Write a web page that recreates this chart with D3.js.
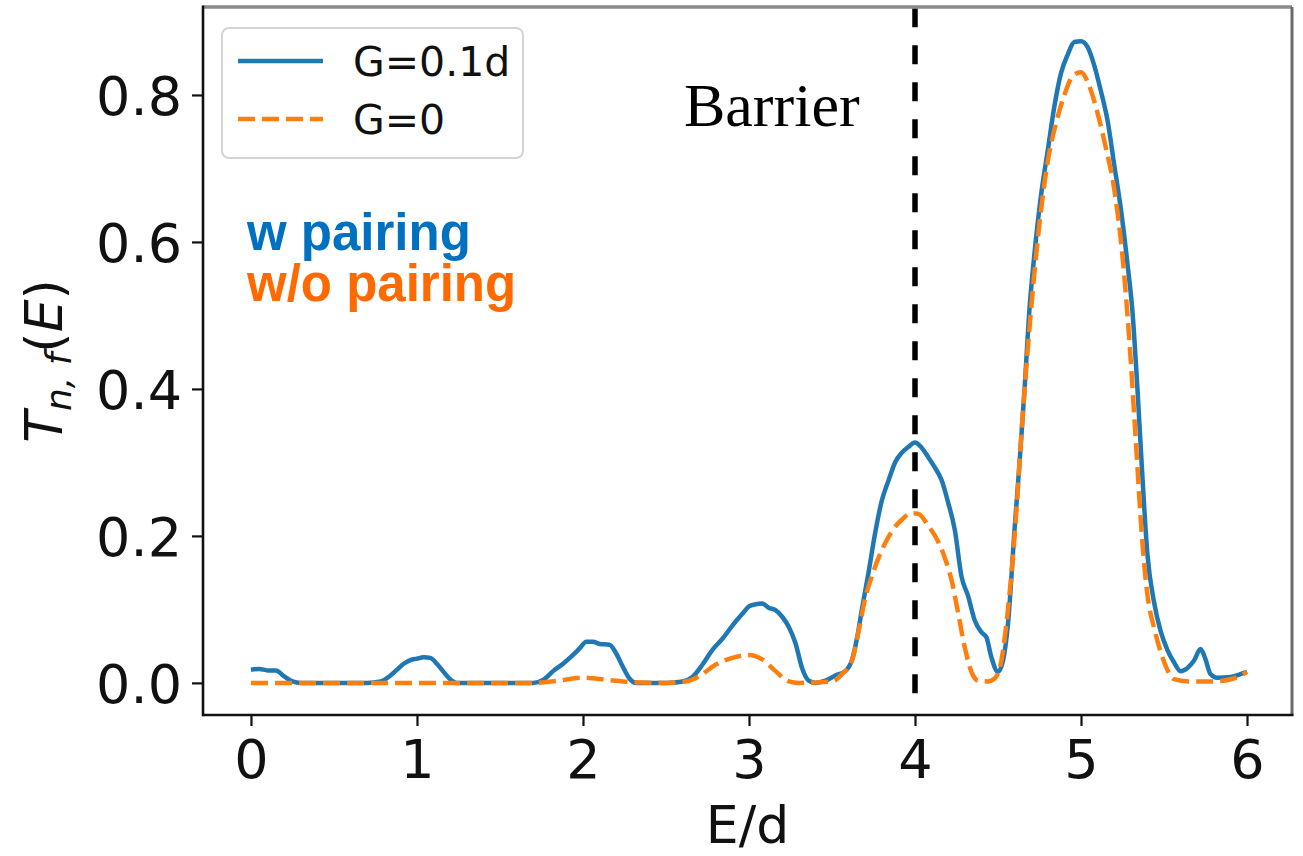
<!DOCTYPE html>
<html>
<head>
<meta charset="utf-8">
<script src="https://cdn.jsdelivr.net/npm/d3@7"></script>
<style>
  html, body { margin: 0; padding: 0; background: #fff; }
  svg { display: block; }
  .tick text { font-family: "DejaVu Sans", sans-serif; }
</style>
</head>
<body>
<svg id="chart" width="1303" height="856"></svg>
<script>
// Energy grid (E/d) and transmission values for the paired system (G = 0.1d)
const energyPaired = [0.00,0.05,0.10,0.15,0.20,0.25,0.30,0.50,0.70,0.78,0.84,0.88,0.92,0.96,1.00,1.04,1.08,1.12,1.16,1.20,1.24,1.50,1.70,1.76,1.82,1.88,1.94,1.98,2.02,2.06,2.10,2.16,2.20,2.24,2.28,2.32,2.50,2.60,2.66,2.72,2.78,2.84,2.90,2.96,3.00,3.04,3.08,3.12,3.16,3.20,3.24,3.28,3.32,3.36,3.40,3.46,3.52,3.58,3.62,3.65,3.68,3.72,3.76,3.80,3.84,3.88,3.92,3.96,4.00,4.04,4.08,4.12,4.16,4.20,4.24,4.28,4.32,4.36,4.40,4.43,4.46,4.50,4.53,4.56,4.60,4.63,4.66,4.69,4.72,4.76,4.80,4.84,4.88,4.92,4.96,5.00,5.04,5.08,5.12,5.16,5.20,5.24,5.28,5.31,5.34,5.37,5.40,5.44,5.48,5.52,5.56,5.60,5.64,5.68,5.72,5.75,5.78,5.82,5.90,5.96,6.00];
const transPaired = [0.018,0.019,0.017,0.017,0.009,0.002,0.000,0.000,0.000,0.002,0.010,0.018,0.026,0.031,0.033,0.035,0.034,0.026,0.015,0.005,0.000,0.000,0.000,0.004,0.016,0.026,0.038,0.047,0.056,0.056,0.053,0.052,0.040,0.022,0.006,0.000,0.000,0.002,0.008,0.025,0.045,0.060,0.078,0.094,0.104,0.107,0.108,0.102,0.099,0.090,0.076,0.054,0.020,0.003,0.000,0.003,0.010,0.016,0.031,0.060,0.100,0.150,0.204,0.248,0.275,0.300,0.313,0.321,0.327,0.320,0.307,0.293,0.276,0.245,0.208,0.145,0.118,0.085,0.069,0.062,0.035,0.015,0.030,0.080,0.210,0.300,0.400,0.510,0.585,0.665,0.725,0.785,0.830,0.855,0.872,0.873,0.865,0.840,0.805,0.765,0.705,0.645,0.570,0.505,0.400,0.280,0.175,0.110,0.070,0.045,0.028,0.016,0.020,0.030,0.046,0.032,0.012,0.007,0.008,0.012,0.015];

// Energy grid and transmission values without pairing (G = 0)
const energyUnpaired = [0.00,1.70,1.85,2.00,2.15,2.30,2.50,2.62,2.70,2.80,2.90,3.00,3.08,3.16,3.24,3.30,3.50,3.56,3.62,3.66,3.70,3.74,3.78,3.82,3.86,3.92,3.98,4.02,4.08,4.14,4.18,4.22,4.26,4.30,4.34,4.38,4.44,4.48,4.52,4.56,4.60,4.65,4.70,4.75,4.80,4.85,4.90,4.95,5.00,5.05,5.10,5.15,5.20,5.25,5.29,5.33,5.37,5.40,5.44,5.48,5.52,5.56,5.65,5.80,5.92,6.00];
const transUnpaired = [0.000,0.000,0.003,0.007,0.004,0.001,0.000,0.002,0.009,0.025,0.034,0.038,0.032,0.016,0.002,0.000,0.002,0.012,0.030,0.070,0.115,0.145,0.170,0.190,0.206,0.222,0.231,0.230,0.214,0.192,0.170,0.140,0.095,0.048,0.015,0.003,0.002,0.006,0.030,0.100,0.200,0.368,0.510,0.625,0.710,0.762,0.800,0.826,0.831,0.812,0.775,0.728,0.672,0.580,0.470,0.330,0.190,0.120,0.075,0.042,0.018,0.005,0.002,0.002,0.006,0.015];

const xTicks = [0, 1, 2, 3, 4, 5, 6];
const yTicks = [0.0, 0.2, 0.4, 0.6, 0.8];
const seriesNames = ["G=0.1d", "G=0"];
const barrierE = 4.0;
const barrierSpan = [-0.025, 0.918];

const svg = d3.select("#chart");
const frame = { left: 203, right: 1292, top: 7, bottom: 715 };

const x = d3.scaleLinear().domain([-0.289, 6.271]).range([frame.left, frame.right]);
const y = d3.scaleLinear().domain([-0.0437, 0.9197]).range([frame.bottom, frame.top]);

const blue = "#1f77b4", orange = "#ff7f0e";

// clip region for the plotted data
svg.append("defs").append("clipPath").attr("id", "plotArea")
  .append("rect")
  .attr("x", frame.left).attr("y", frame.top)
  .attr("width", frame.right - frame.left).attr("height", frame.bottom - frame.top);

const plot = svg.append("g").attr("clip-path", "url(#plotArea)");

const line = d3.line().x(d => x(d[0])).y(d => y(d[1])).curve(d3.curveMonotoneX);

const pairedPts = energyPaired.map((e, i) => [e, transPaired[i]]);
const unpairedPts = energyUnpaired.map((e, i) => [e, transUnpaired[i]]);

plot.append("path").datum(pairedPts)
  .attr("d", line).attr("fill", "none")
  .attr("stroke", blue).attr("stroke-width", 4.5)
  .attr("stroke-linejoin", "round");

plot.append("path").datum(unpairedPts)
  .attr("d", line).attr("fill", "none")
  .attr("stroke", orange).attr("stroke-width", 4.5)
  .attr("stroke-dasharray", "17,7");

// barrier marker
plot.append("line")
  .attr("x1", x(barrierE)).attr("x2", x(barrierE))
  .attr("y1", y(barrierSpan[1])).attr("y2", y(barrierSpan[0]))
  .attr("stroke", "#000").attr("stroke-width", 5.5)
  .attr("stroke-dasharray", "19,18");

// axes
const xAxis = d3.axisBottom(x).tickValues(xTicks).tickFormat(d3.format("d"))
  .tickSize(11).tickPadding(14);
const yAxis = d3.axisLeft(y).tickValues(yTicks).tickFormat(d3.format(".1f"))
  .tickSize(11).tickPadding(10);

const gx = svg.append("g").attr("transform", `translate(0,${frame.bottom})`).call(xAxis);
const gy = svg.append("g").attr("transform", `translate(${frame.left},0)`).call(yAxis);
[gx, gy].forEach(g => {
  g.select(".domain").remove();
  g.selectAll(".tick line").attr("stroke", "#111").attr("stroke-width", 2.2);
  g.selectAll(".tick text").attr("fill", "#111").attr("font-size", 54);
});
gy.selectAll(".tick text").attr("dy", "0.36em");

// spines
svg.append("line").attr("x1", frame.left).attr("x2", frame.right)
  .attr("y1", frame.top).attr("y2", frame.top)
  .attr("stroke", "#8a8a8a").attr("stroke-width", 3.5);
svg.append("line").attr("x1", frame.right).attr("x2", frame.right)
  .attr("y1", frame.top).attr("y2", frame.bottom)
  .attr("stroke", "#6a6a6a").attr("stroke-width", 3);
svg.append("line").attr("x1", frame.left).attr("x2", frame.left)
  .attr("y1", frame.top - 1.5).attr("y2", frame.bottom + 1.2)
  .attr("stroke", "#111").attr("stroke-width", 2.6);
svg.append("line").attr("x1", frame.left).attr("x2", frame.right + 1.5)
  .attr("y1", frame.bottom).attr("y2", frame.bottom)
  .attr("stroke", "#111").attr("stroke-width", 2.6);

// axis titles
svg.append("text")
  .attr("x", (frame.left + frame.right) / 2).attr("y", 843)
  .attr("text-anchor", "middle")
  .attr("font-family", "DejaVu Sans, sans-serif").attr("font-size", 52)
  .attr("fill", "#111")
  .text("E/d");

const yl = svg.append("text")
  .attr("transform", `translate(62,${(frame.top + frame.bottom) / 2}) rotate(-90)`)
  .attr("text-anchor", "middle")
  .attr("font-family", "DejaVu Sans, sans-serif").attr("font-size", 52)
  .attr("fill", "#111");
yl.append("tspan").attr("font-style", "italic").text("T");
yl.append("tspan").attr("font-style", "italic").attr("font-size", 36)
  .attr("dy", 9).text("n, f");
yl.append("tspan").attr("dy", -9).text("(");
yl.append("tspan").attr("font-style", "italic").text("E");
yl.append("tspan").text(")");

// legend
const lg = svg.append("g");
lg.append("rect")
  .attr("x", 222).attr("y", 28).attr("width", 301).attr("height", 130)
  .attr("rx", 7).attr("fill", "#fff")
  .attr("stroke", "#d4d4d4").attr("stroke-width", 2);
const legendRows = [
  { name: seriesNames[0], color: blue, dash: null, cy: 61 },
  { name: seriesNames[1], color: orange, dash: "17,7", cy: 119 }
];
legendRows.forEach(r => {
  lg.append("line")
    .attr("x1", 238).attr("x2", 323).attr("y1", r.cy).attr("y2", r.cy)
    .attr("stroke", r.color).attr("stroke-width", 4.5)
    .attr("stroke-dasharray", r.dash);
  lg.append("text")
    .attr("x", 353).attr("y", r.cy).attr("dy", "0.36em")
    .attr("font-family", "DejaVu Sans, sans-serif").attr("font-size", 41)
    .attr("fill", "#111")
    .text(r.name);
});

// annotations
svg.append("text")
  .attr("x", 684).attr("y", 126)
  .attr("font-family", "Liberation Serif, Times New Roman, serif")
  .attr("font-size", 62).attr("fill", "#000")
  .text("Barrier");

// two-line colour key, set as one text block
const key = svg.append("text")
  .attr("x", 247).attr("y", 250)
  .attr("font-family", "Liberation Sans, Arial, sans-serif")
  .attr("font-weight", "bold").attr("font-size", 51);
key.append("tspan").attr("x", 247).attr("fill", "#0070c0").text("w pairing");
key.append("tspan").attr("x", 247).attr("dy", 51).attr("fill", "#ff6a00").text("w/o pairing");
</script>
</body>
</html>
